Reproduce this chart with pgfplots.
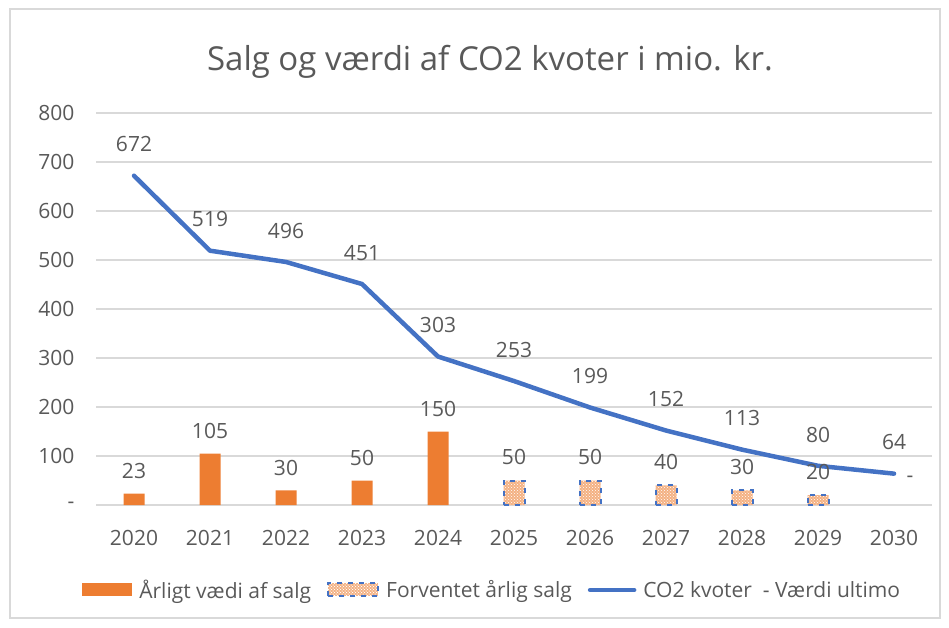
\documentclass[border=0pt]{standalone}
\usepackage{fontspec}
\setmainfont{Open Sans}
\usepackage{pgfplots}
\pgfplotsset{compat=1.18}
\usetikzlibrary{patterns}
\definecolor{barOrange}{HTML}{ED7D31}
\definecolor{patOrange}{HTML}{F4B183}
\definecolor{lineBlue}{HTML}{4472C4}
\definecolor{txtGray}{HTML}{595959}
\definecolor{gridGray}{HTML}{D9D9D9}
\begin{document}
\begin{tikzpicture}[x=1pt,y=1pt]
\path (0,0) rectangle (949,627);
\draw[draw=gridGray, line width=2pt] (10,9) rectangle (940,618);
\node[font=\fontsize{33}{39}\selectfont, text=txtGray] at (490,565) {Salg og værdi af CO2 kvoter i mio. kr.};
\begin{axis}[at={(96pt,122pt)}, anchor=south west, scale only axis,
  width=836pt, height=392pt,
  xmin=-0.5, xmax=10.5, ymin=0, ymax=800,
  xtick={0,...,10}, xticklabels={2020,2021,2022,2023,2024,2025,2026,2027,2028,2029,2030},
  ytick={0,100,...,800}, yticklabels={-,100,200,300,400,500,600,700,800},
  axis line style={draw=none}, tick style={draw=none},
  ymajorgrids, major grid style={draw=gridGray, line width=1.2pt},
  tick label style={font=\fontsize{21}{25}\selectfont, text=txtGray},
  yticklabel style={xshift=-18pt},
  xticklabel style={anchor=base, yshift=-40pt},
  point meta=explicit symbolic,
  every node near coord/.append style={font=\fontsize{21}{25}\selectfont, text=txtGray},
  legend style={at={(0.474,-0.217)}, anchor=center, draw=none, fill=none,
    font=\fontsize{21}{25}\selectfont, text=txtGray, legend columns=3,
    /tikz/every even column/.append style={column sep=14pt},
    /tikz/every odd column/.append style={column sep=5pt}},
  legend cell align=left,
]
\addplot[ybar, bar width=21pt, bar shift=0pt, fill=barOrange, draw=none,
  nodes near coords, every node near coord/.append style={yshift=11pt},
  legend image code/.code={\fill[barOrange] (0pt,-6pt) rectangle (50pt,7pt);}]
  coordinates {(0,23)[23] (1,105)[105] (2,30)[30] (3,50)[50] (4,150)[150]};
\addlegendentry{Årligt vædi af salg}
\addplot[ybar, bar width=21pt, bar shift=0pt, fill=patOrange, draw=lineBlue,
  line width=2pt, dash pattern=on 5pt off 6pt,
  postaction={pattern=crosshatch dots, pattern color=white},
  nodes near coords, every node near coord/.append style={yshift=11pt},
  legend image code/.code={\draw[fill=patOrange, draw=lineBlue, line width=2pt,
    dash pattern=on 5pt off 6pt, postaction={pattern=crosshatch dots, pattern color=white}]
    (0pt,-6pt) rectangle (50pt,7pt);}]
  coordinates {(5,50)[50] (6,50)[50] (7,40)[40] (8,30)[30] (9,20)[20]};
\addlegendentry{Forventet årlig salg}
\addplot[sharp plot, color=lineBlue, line width=4.5pt, line cap=round, line join=round, mark=none,
  nodes near coords, every node near coord/.append style={yshift=18pt},
  legend image code/.code={\draw[lineBlue, line width=4.5pt, line cap=round] (2pt,0pt) -- (46pt,0pt);}]
  coordinates {(0,672)[672] (1,519)[519] (2,496)[496] (3,451)[451] (4,303)[303]
    (5,253)[253] (6,199)[199] (7,152)[152] (8,113)[113] (9,80)[80] (10,64)[64]};
\addlegendentry{CO2 kvoter\ \ - Værdi ultimo}
\addplot[draw=none, mark=none, forget plot, nodes near coords,
  every node near coord/.append style={anchor=center, xshift=16pt, yshift=-6pt}]
  coordinates {(10,64)[-]};
\end{axis}
\end{tikzpicture}
\end{document}
